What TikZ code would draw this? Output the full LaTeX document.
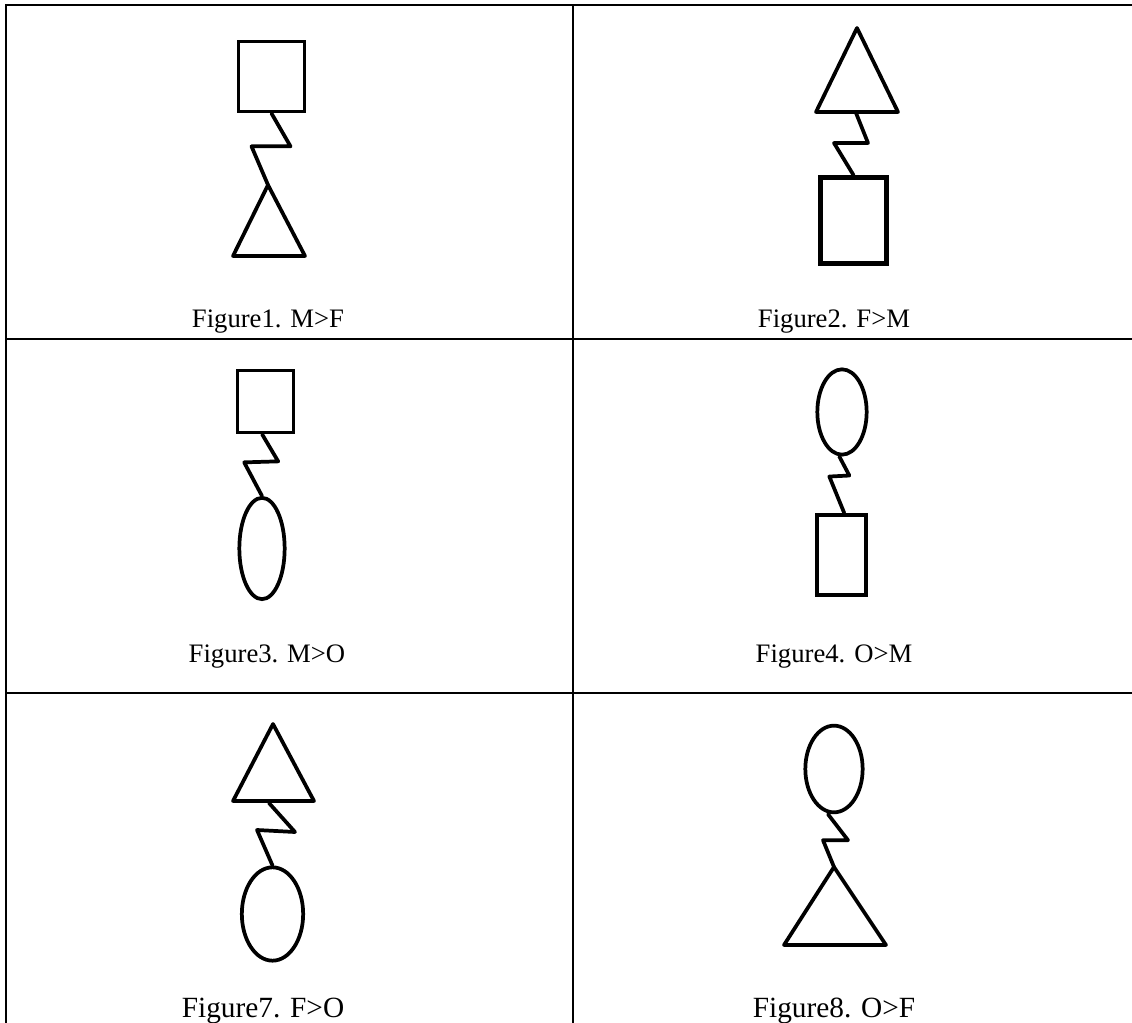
\documentclass[tikz,border=0pt]{standalone}
\usepackage{fontspec}
\setmainfont{Liberation Serif}
\usetikzlibrary{shapes.geometric}
\begin{document}
\begin{tikzpicture}[x=0.75pt,y=-0.75pt,
    gridLine/.style={line width=1.5pt},
    symLine/.style={line width=2.8pt,line join=round,line cap=round},
    maleBox/.style={draw,line width=2.8pt,rectangle,inner sep=0pt},
    otherOval/.style={draw,line width=2.8pt,ellipse,inner sep=0pt},
    capText/.style={anchor=base,font=\fontsize{20pt}{24pt}\selectfont},
    capTextL/.style={anchor=base,font=\fontsize{22pt}{26pt}\selectfont},
]
\useasboundingbox (0,0) rectangle (1132,1023);
% Table rules
\draw[gridLine] (1132,5) -- (6,5) -- (6,1023);
\draw[gridLine] (573,5) -- (573,1023);
\draw[gridLine] (6,339) -- (1132,339);
\draw[gridLine] (6,693) -- (1132,693);
% Figure1: M>F
\node[maleBox,minimum width=49.5pt,minimum height=52.5pt] (m1) at (271.5,76.5) {};
\coordinate (f1top) at (268,185);
\draw[symLine] (f1top) -- (233,256) -- (305,256) -- cycle;
\draw[symLine] (m1.south) -- ++(19,33) -- ++(-39,0) -- (f1top);
\node[capText] (cap1) at (268,328) {Figure1. M>F};
% Figure2: F>M
\coordinate (f2top) at (857,28);
\coordinate (f2base) at (856,113);
\draw[symLine] (f2top) -- (898,112) -- (816,112) -- cycle;
\node[maleBox,line width=3.6pt,minimum width=49.5pt,minimum height=64.5pt] (m2) at (853.5,220.5) {};
\draw[symLine] (f2base) -- ++(12,30) -- ++(-34,0) -- (m2.north);
\node[capText] (cap2) at (834,328) {Figure2. F>M};
% Figure3: M>O
\node[maleBox,minimum width=42pt,minimum height=46.5pt] (m3) at (265.5,401.5) {};
\node[otherOval,minimum width=34pt,minimum height=76pt] (o3) at (262,548.5) {};
\draw[symLine] ([xshift=-2.5pt]m3.south) -- ++(16,27) -- ++(-34,1) -- (o3.north);
\node[capText] (cap3) at (267,662) {Figure3. M>O};
% Figure4: O>M
\node[otherOval,minimum width=37pt,minimum height=64pt] (o4) at (842,412) {};
\node[maleBox,line width=3.2pt,minimum width=37pt,minimum height=60pt] (m4) at (841.5,555) {};
\draw[symLine] ([xshift=-2pt]o4.south) -- ++(10,19) -- ++(-20,1) -- ([xshift=2pt]m4.north);
\node[capText] (cap4) at (834,662) {Figure4. O>M};
% Figure7: F>O
\coordinate (f7base) at (269,803);
\draw[symLine] (273,724) -- (314,801) -- (233,801) -- cycle;
\node[otherOval,minimum width=46pt,minimum height=70pt] (o7) at (272.5,914) {};
\draw[symLine] (f7base) -- ++(26,29) -- ++(-38,-2) -- (o7.north);
\node[capTextL] (cap7) at (263,1017) {Figure7. F>O};
% Figure8: O>F
\node[otherOval,minimum width=43pt,minimum height=65pt] (o8) at (834,769) {};
\coordinate (f8top) at (834,867);
\draw[symLine] (f8top) -- (784,945) -- (886,945) -- cycle;
\draw[symLine] ([xshift=-4.5pt]o8.south) -- ++(20,26) -- ++(-25,0) -- (f8top);
\node[capTextL] (cap8) at (834,1017) {Figure8. O>F};
\end{tikzpicture}
\end{document}
